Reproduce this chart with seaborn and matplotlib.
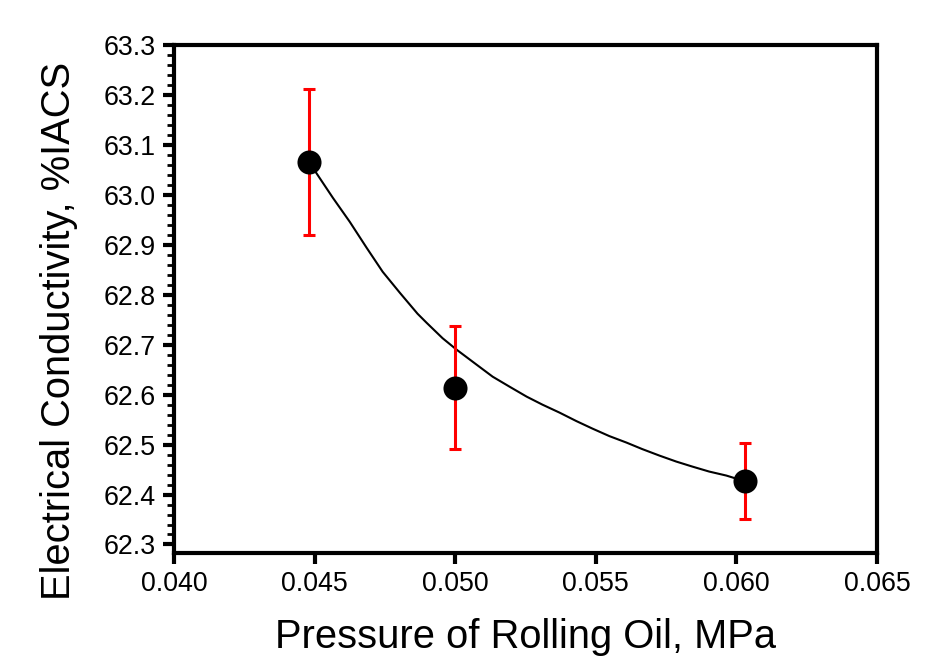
import numpy as np
import pandas as pd
import matplotlib
matplotlib.use("Agg")
import matplotlib.pyplot as plt
import seaborn as sns
from matplotlib.ticker import MultipleLocator

# measured points
pressure = [0.0448, 0.0500, 0.0603]
conductivity = [63.066, 62.614, 62.427]
err = [0.146, 0.123, 0.076]

# fitted curve
curve_x = [0.04483, 0.04501, 0.04565, 0.04625, 0.04685, 0.04742, 0.04803, 0.04866,
           0.04898, 0.04955, 0.05005, 0.05076, 0.05133, 0.05193, 0.05254, 0.05310,
           0.05371, 0.05431, 0.05488, 0.05548, 0.05609, 0.05665, 0.05726, 0.05786,
           0.05843, 0.05903, 0.05964, 0.06010, 0.06031]
curve_y = [63.066, 63.048, 62.994, 62.946, 62.894, 62.846, 62.804, 62.762,
           62.744, 62.713, 62.690, 62.660, 62.636, 62.616, 62.596, 62.580,
           62.564, 62.547, 62.532, 62.517, 62.504, 62.491, 62.478, 62.466,
           62.456, 62.446, 62.438, 62.430, 62.426]

x_ticks = [0.040, 0.045, 0.050, 0.055, 0.060, 0.065]
y_ticks = [62.3, 62.4, 62.5, 62.6, 62.7, 62.8, 62.9, 63.0, 63.1, 63.2, 63.3]

sns.set_style("ticks")
plt.rcParams['font.family'] = ['Liberation Sans', 'DejaVu Sans']
plt.rcParams['text.color'] = 'black'
plt.rcParams['axes.labelcolor'] = 'black'
plt.rcParams['xtick.color'] = 'black'
plt.rcParams['ytick.color'] = 'black'

df = pd.DataFrame({"p": pressure, "c": conductivity, "e": err})
fit = pd.DataFrame({"x": curve_x, "y": curve_y})

fig = plt.figure(figsize=(9.53, 6.68), dpi=100)
ax = fig.add_axes([0.1826, 0.1722, 0.7377, 0.7604])

sns.lineplot(data=fit, x="x", y="y", sort=False, estimator=None, color="black",
             linewidth=1.5, ax=ax, zorder=2)
ax.errorbar(df["p"], df["c"], yerr=df["e"], fmt="none", ecolor="red",
            elinewidth=2.2, capsize=4.5, capthick=2.2, zorder=3)
sns.scatterplot(data=df, x="p", y="c", color="black", s=300, edgecolor="black",
                linewidth=0, ax=ax, zorder=4)

ax.set_xlim(0.040, 0.065)
ax.set_ylim(62.283, 63.3)
ax.set_xticks(x_ticks)
ax.set_xticklabels([f"{v:.3f}" for v in x_ticks])
ax.set_yticks(y_ticks)
ax.set_yticklabels([f"{v:.1f}" for v in y_ticks])
ax.yaxis.set_minor_locator(MultipleLocator(0.02))

for s in ax.spines.values():
    s.set_linewidth(3)
    s.set_color("black")

ax.tick_params(axis="both", which="major", direction="out", length=8, width=3,
               labelsize=19.3, pad=5, colors="black")
ax.tick_params(axis="y", which="minor", direction="out", length=5, width=2, colors="black")

ax.set_xlabel("Pressure of Rolling Oil, MPa", fontsize=28.7, labelpad=15)
ax.set_ylabel("Electrical Conductivity, %IACS", fontsize=28.7)
ax.yaxis.set_label_coords(-0.137, 0.437)

plt.savefig("out.png", dpi=100)
